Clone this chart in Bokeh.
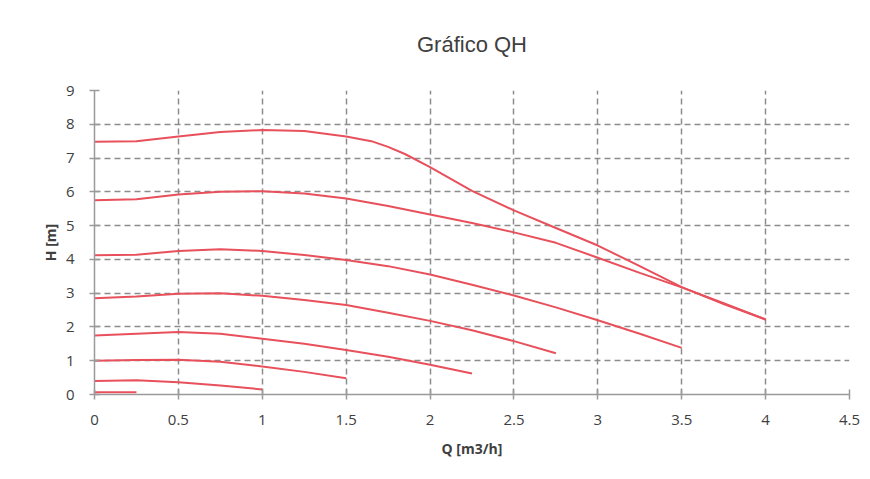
from bokeh.plotting import figure
from bokeh.models import FixedTicker, Range1d
from bokeh.embed import file_html
from bokeh.resources import INLINE

# Data (Q in m3/h, H in m)
q1 = [0, 0.25, 0.5, 0.75, 1.0, 1.25, 1.5, 1.65, 1.75, 1.85, 2.0, 2.25, 2.5, 2.75, 3.0, 3.25, 3.5, 3.75, 4.0]
h1 = [7.48, 7.5, 7.64, 7.77, 7.83, 7.8, 7.64, 7.5, 7.33, 7.12, 6.73, 6.03, 5.45, 4.93, 4.41, 3.8, 3.18, 2.68, 2.22]
q2 = [0, 0.25, 0.5, 0.75, 1.0, 1.25, 1.5, 1.75, 2.0, 2.25, 2.5, 2.75, 3.0, 3.25, 3.5, 3.75, 4.0]
h2 = [5.75, 5.78, 5.92, 6.0, 6.02, 5.95, 5.8, 5.58, 5.33, 5.08, 4.8, 4.49, 4.05, 3.6, 3.17, 2.7, 2.22]
q3 = [0, 0.25, 0.5, 0.75, 1.0, 1.25, 1.5, 1.75, 2.0, 2.25, 2.5, 2.75, 3.0, 3.25, 3.5]
h3 = [4.12, 4.14, 4.25, 4.3, 4.25, 4.13, 3.98, 3.8, 3.55, 3.25, 2.93, 2.58, 2.2, 1.8, 1.38]
q4 = [0, 0.25, 0.5, 0.75, 1.0, 1.25, 1.5, 1.75, 2.0, 2.25, 2.5, 2.75]
h4 = [2.85, 2.9, 2.98, 3.0, 2.92, 2.8, 2.65, 2.42, 2.18, 1.9, 1.58, 1.22]
q5 = [0, 0.25, 0.5, 0.75, 1.0, 1.25, 1.5, 1.75, 2.0, 2.25]
h5 = [1.75, 1.8, 1.85, 1.8, 1.65, 1.5, 1.32, 1.12, 0.88, 0.62]
q6 = [0, 0.25, 0.5, 0.75, 1.0, 1.25, 1.5]
h6 = [1.0, 1.02, 1.03, 0.97, 0.83, 0.67, 0.48]
q7 = [0, 0.25, 0.5, 0.75, 1.0]
h7 = [0.4, 0.42, 0.36, 0.27, 0.15]
q8 = [0, 0.25]
h8 = [0.07, 0.07]

x_ticks = [0, 0.5, 1, 1.5, 2, 2.5, 3, 3.5, 4, 4.5]
x_tick_labels = ["0", "0.5", "1", "1.5", "2", "2.5", "3", "3.5", "4", "4.5"]
y_ticks = [0, 1, 2, 3, 4, 5, 6, 7, 8, 9]

p = figure(width=862, height=471, output_backend="svg", toolbar_location=None,
           x_range=Range1d(0, 4.5), y_range=Range1d(0, 9),
           title="Gráfico QH",
           min_border_left=94, min_border_right=13, min_border_top=90, min_border_bottom=77)

p.title.align = "center"
p.title.text_font = "Liberation Sans"
p.title.text_font_size = "22px"
p.title.text_font_style = "normal"
p.title.text_color = "#404040"
p.title.offset = 0
p.title.standoff = 63
p.title.vertical_align = "top"

p.outline_line_color = None
p.background_fill_color = "white"
p.border_fill_color = "white"

for ax in (p.xaxis[0], p.yaxis[0]):
    ax.axis_line_color = "#9a9a9a"
    ax.axis_line_width = 1.5
    ax.major_tick_line_color = "#9a9a9a"
    ax.major_tick_line_width = 1.5
    ax.major_tick_in = 5
    ax.major_tick_out = 5
    ax.minor_tick_line_color = None
    ax.major_label_text_font = "Open Sans"
    ax.major_label_text_font_size = "15px"
    ax.major_label_text_color = "#404040"
    ax.axis_label_text_font = "Open Sans"
    ax.axis_label_text_font_size = "14px"
    ax.axis_label_text_font_style = "bold"
    ax.axis_label_text_color = "#404040"

p.xaxis.ticker = FixedTicker(ticks=x_ticks)
p.xaxis.major_label_overrides = {t: l for t, l in zip(x_ticks, x_tick_labels)}
p.yaxis.ticker = FixedTicker(ticks=y_ticks)
p.xaxis.axis_label = "Q [m3/h]"
p.yaxis.axis_label = "H [m]"
p.xaxis.major_label_standoff = 15
p.yaxis.major_label_standoff = 15
p.xaxis.axis_label_standoff = 11
p.yaxis.axis_label_standoff = 3

for g in (p.xgrid[0], p.ygrid[0]):
    g.grid_line_color = "#8c8c8c"
    g.grid_line_width = 1.5
    g.grid_line_dash = "6 4"

red = "#e8505b"
for qs, hs in [(q1, h1), (q2, h2), (q3, h3), (q4, h4), (q5, h5), (q6, h6), (q7, h7), (q8, h8)]:
    p.line(qs, hs, line_color=red, line_width=2)

open("out.html", "w").write(file_html(p, INLINE))
